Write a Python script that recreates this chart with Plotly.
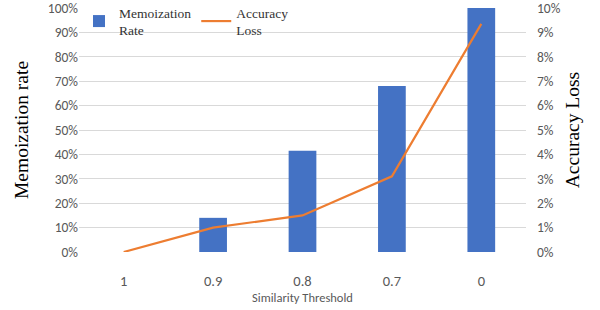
import plotly.graph_objects as go

thresholds = ["1", "0.9", "0.8", "0.7", "0"]
memo_rate = [0.0, 0.14, 0.415, 0.68, 1.0]
acc_loss = [0.0, 0.010, 0.015, 0.031, 0.0935]

fig = go.Figure()
fig.add_trace(go.Bar(x=thresholds, y=memo_rate, name="Memoization<br>Rate",
                     marker=dict(color="#4472C4", line=dict(width=0)), width=0.31, yaxis="y"))
fig.add_trace(go.Scatter(x=thresholds, y=acc_loss, name="Accuracy<br>Loss", mode="lines",
                         line=dict(color="#ED7D31", width=2.2), yaxis="y2"))

sans = "Carlito, Calibri, Liberation Sans, sans-serif"
tickfont = dict(family=sans, size=13.5, color="#595959")
serif = "Liberation Serif"

fig.update_layout(
    width=600, height=310,
    margin=dict(l=79, r=74, t=8, b=58, autoexpand=False),
    plot_bgcolor="white", paper_bgcolor="white",
    bargap=0.69,
    showlegend=True,
    legend=dict(orientation="h", x=0.0, y=1.045, xanchor="left", yanchor="top",
                font=dict(family=serif, size=13.5, color="#333333"),
                bgcolor="rgba(255,255,255,0)", itemwidth=30),
    xaxis=dict(title=dict(text="Similarity Threshold", font=dict(family=sans, size=12.5, color="#595959"), standoff=2),
               tickfont=dict(family=sans, size=14.5, color="#595959"), automargin=False,
               showgrid=False, showline=False, ticks="", ticklabelstandoff=18),
    yaxis=dict(range=[0, 1], dtick=0.1, tickformat=".0%", tickfont=tickfont, automargin=False,
               ticklabeloverflow="allow",
               gridcolor="#D9D9D9", gridwidth=1, zeroline=False, showline=False,
               title=dict(text="Memoization rate", font=dict(family=serif, size=19.5, color="black"), standoff=13)),
    yaxis2=dict(range=[0, 0.1], dtick=0.01, tickformat=".0%", tickfont=tickfont, automargin=False,
                ticklabeloverflow="allow",
                overlaying="y", side="right", showgrid=False, zeroline=False, showline=False,
                ticklabelstandoff=10,
                title=dict(text="Accuracy Loss", font=dict(family=serif, size=19.5, color="black"), standoff=5)),
)

fig.write_html("out.html", config={"displayModeBar": False},
               post_script="document.body.style.margin='0';")
